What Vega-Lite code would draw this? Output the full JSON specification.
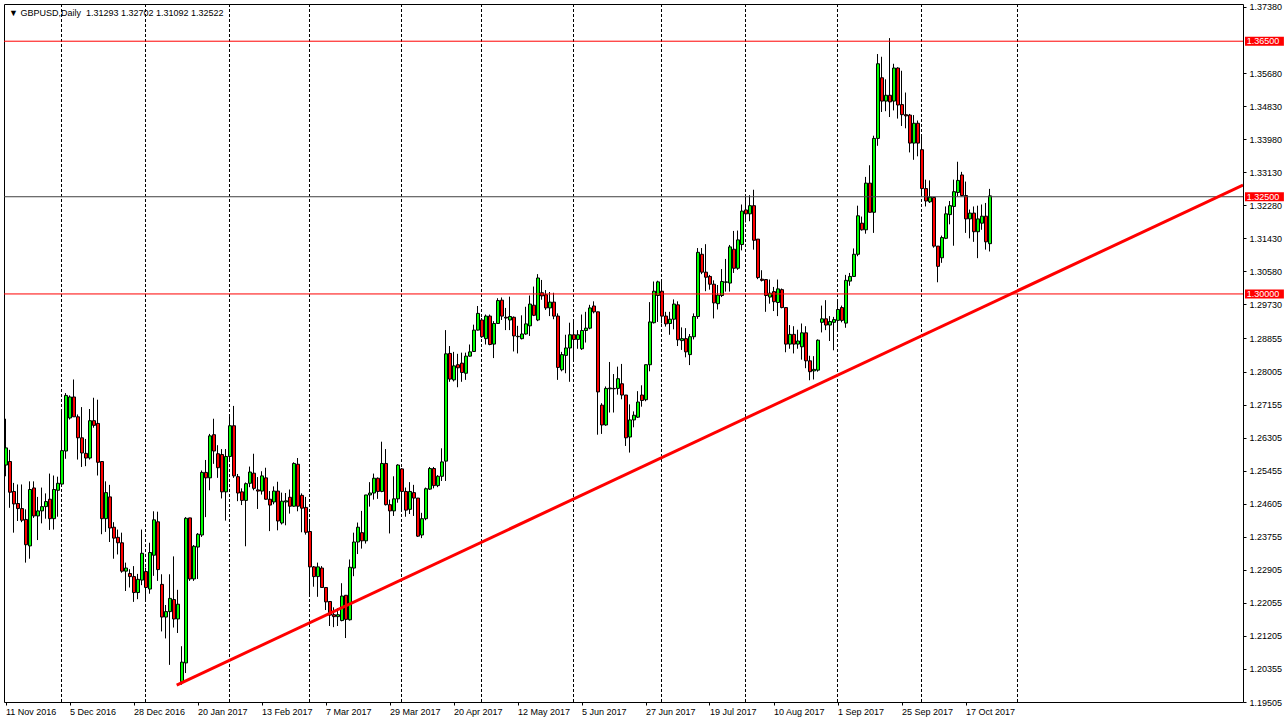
{
"$schema": "https://vega.github.io/schema/vega-lite/v6.json",
"width": 1239, "height": 698,
"autosize": {"type": "none"},
"padding": {"left": 4, "top": 4, "right": 45, "bottom": 23},
"background": "white",
"config": {"view": {"stroke": "black", "strokeWidth": 1}, "font": "Liberation Sans",
 "scale": {"continuousPadding": 0},
 "axis": {"labelFont": "Liberation Sans", "labelFontSize": 9, "labelColor": "black", "tickColor": "black", "domain": false, "grid": false, "labelOverlap": false, "labelFlush": false}},
"title": {"text": "▼ GBPUSD,Daily\u00a0\u00a01.31293 1.32702 1.31092 1.32522", "anchor": "start", "frame": "group", "orient": "top", "offset": -22, "baseline": "alphabetic", "dx": 5, "font": "Liberation Sans", "fontSize": 9, "fontWeight": "normal", "color": "black"},
"datasets": {
"grid": [{"i":14},{"i":35},{"i":56},{"i":76},{"i":99},{"i":119},{"i":142},{"i":164},{"i":185},{"i":208},{"i":229},{"i":253}],
"red": [{"p":1.365},{"p":1.3}],
"dark": [{"p":1.325}],
"tags": [{"p":1.365},{"p":1.325},{"p":1.3}],
"trend": [{"i":42.8,"p":1.1994},{"i":309.375,"p":1.3280}],
"k": [
{"i":0,"o":1.2560,"h":1.2679,"l":1.2531,"c":1.2604},
{"i":1,"o":1.2569,"h":1.2599,"l":1.2450,"c":1.2490},
{"i":2,"o":1.2492,"h":1.2514,"l":1.2386,"c":1.2460},
{"i":3,"o":1.2461,"h":1.2510,"l":1.2416,"c":1.2448},
{"i":4,"o":1.2448,"h":1.2510,"l":1.2413,"c":1.2418},
{"i":5,"o":1.2420,"h":1.2446,"l":1.2309,"c":1.2355},
{"i":6,"o":1.2352,"h":1.2518,"l":1.2319,"c":1.2497},
{"i":7,"o":1.2501,"h":1.2518,"l":1.2424,"c":1.2429},
{"i":8,"o":1.2429,"h":1.2478,"l":1.2367,"c":1.2442},
{"i":9,"o":1.2442,"h":1.2502,"l":1.2410,"c":1.2453},
{"i":10,"o":1.2453,"h":1.2487,"l":1.2422,"c":1.2466},
{"i":11,"o":1.2472,"h":1.2538,"l":1.2393,"c":1.2422},
{"i":12,"o":1.2422,"h":1.2533,"l":1.2394,"c":1.2497},
{"i":13,"o":1.2495,"h":1.2530,"l":1.2427,"c":1.2513},
{"i":14,"o":1.2511,"h":1.2703,"l":1.2506,"c":1.2597},
{"i":15,"o":1.2596,"h":1.2745,"l":1.2576,"c":1.2739},
{"i":16,"o":1.2681,"h":1.2739,"l":1.2677,"c":1.2735},
{"i":17,"o":1.2735,"h":1.2780,"l":1.2684,"c":1.2684},
{"i":18,"o":1.2684,"h":1.2690,"l":1.2574,"c":1.2630},
{"i":19,"o":1.2630,"h":1.2709,"l":1.2555,"c":1.2591},
{"i":20,"o":1.2590,"h":1.2627,"l":1.2557,"c":1.2578},
{"i":21,"o":1.2578,"h":1.2704,"l":1.2574,"c":1.2674},
{"i":22,"o":1.2674,"h":1.2733,"l":1.2656,"c":1.2662},
{"i":23,"o":1.2667,"h":1.2728,"l":1.2533,"c":1.2567},
{"i":24,"o":1.2569,"h":1.2569,"l":1.2382,"c":1.2422},
{"i":25,"o":1.2422,"h":1.2518,"l":1.2388,"c":1.2489},
{"i":26,"o":1.2478,"h":1.2509,"l":1.2362,"c":1.2398},
{"i":27,"o":1.2400,"h":1.2413,"l":1.2319,"c":1.2372},
{"i":28,"o":1.2374,"h":1.2394,"l":1.2330,"c":1.2360},
{"i":29,"o":1.2360,"h":1.2386,"l":1.2283,"c":1.2287},
{"i":30,"o":1.2287,"h":1.2309,"l":1.2236,"c":1.2295},
{"i":31,"o":1.2281,"h":1.2292,"l":1.2245,"c":1.2273},
{"i":32,"o":1.2273,"h":1.2300,"l":1.2208,"c":1.2232},
{"i":33,"o":1.2232,"h":1.2280,"l":1.2215,"c":1.2266},
{"i":34,"o":1.2264,"h":1.2394,"l":1.2251,"c":1.2333},
{"i":35,"o":1.2286,"h":1.2296,"l":1.2209,"c":1.2245},
{"i":36,"o":1.2241,"h":1.2360,"l":1.2229,"c":1.2335},
{"i":37,"o":1.2328,"h":1.2441,"l":1.2275,"c":1.2419},
{"i":38,"o":1.2414,"h":1.2440,"l":1.2262,"c":1.2291},
{"i":39,"o":1.2253,"h":1.2279,"l":1.2132,"c":1.2169},
{"i":40,"o":1.2169,"h":1.2200,"l":1.2114,"c":1.2183},
{"i":41,"o":1.2183,"h":1.2279,"l":1.2046,"c":1.2217},
{"i":42,"o":1.2214,"h":1.2325,"l":1.2142,"c":1.2164},
{"i":43,"o":1.2164,"h":1.2239,"l":1.2128,"c":1.2202},
{"i":44,"o":1.2003,"h":1.2094,"l":1.1995,"c":1.2053},
{"i":45,"o":1.2051,"h":1.2426,"l":1.2025,"c":1.2423},
{"i":46,"o":1.2424,"h":1.2424,"l":1.2262,"c":1.2267},
{"i":47,"o":1.2267,"h":1.2354,"l":1.2262,"c":1.2351},
{"i":48,"o":1.2349,"h":1.2385,"l":1.2267,"c":1.2382},
{"i":49,"o":1.2380,"h":1.2546,"l":1.2375,"c":1.2541},
{"i":50,"o":1.2541,"h":1.2573,"l":1.2426,"c":1.2527},
{"i":51,"o":1.2527,"h":1.2640,"l":1.2495,"c":1.2635},
{"i":52,"o":1.2638,"h":1.2679,"l":1.2563,"c":1.2596},
{"i":53,"o":1.2589,"h":1.2611,"l":1.2527,"c":1.2553},
{"i":54,"o":1.2587,"h":1.2601,"l":1.2474,"c":1.2491},
{"i":55,"o":1.2491,"h":1.2601,"l":1.2417,"c":1.2582},
{"i":56,"o":1.2582,"h":1.2685,"l":1.2570,"c":1.2661},
{"i":57,"o":1.2661,"h":1.2712,"l":1.2527,"c":1.2532},
{"i":58,"o":1.2530,"h":1.2537,"l":1.2467,"c":1.2488},
{"i":59,"o":1.2491,"h":1.2500,"l":1.2457,"c":1.2469},
{"i":60,"o":1.2469,"h":1.2515,"l":1.2351,"c":1.2512},
{"i":61,"o":1.2513,"h":1.2556,"l":1.2503,"c":1.2542},
{"i":62,"o":1.2539,"h":1.2589,"l":1.2495,"c":1.2500},
{"i":63,"o":1.2496,"h":1.2529,"l":1.2447,"c":1.2493},
{"i":64,"o":1.2493,"h":1.2544,"l":1.2484,"c":1.2532},
{"i":65,"o":1.2527,"h":1.2553,"l":1.2471,"c":1.2472},
{"i":66,"o":1.2472,"h":1.2493,"l":1.2390,"c":1.2457},
{"i":67,"o":1.2465,"h":1.2505,"l":1.2459,"c":1.2493},
{"i":68,"o":1.2493,"h":1.2517,"l":1.2392,"c":1.2416},
{"i":69,"o":1.2411,"h":1.2489,"l":1.2407,"c":1.2467},
{"i":70,"o":1.2465,"h":1.2488,"l":1.2405,"c":1.2468},
{"i":71,"o":1.2477,"h":1.2497,"l":1.2435,"c":1.2454},
{"i":72,"o":1.2454,"h":1.2567,"l":1.2453,"c":1.2564},
{"i":73,"o":1.2562,"h":1.2578,"l":1.2441,"c":1.2454},
{"i":74,"o":1.2482,"h":1.2487,"l":1.2387,"c":1.2449},
{"i":75,"o":1.2451,"h":1.2478,"l":1.2381,"c":1.2387},
{"i":76,"o":1.2389,"h":1.2420,"l":1.2221,"c":1.2298},
{"i":77,"o":1.2298,"h":1.2300,"l":1.2247,"c":1.2273},
{"i":78,"o":1.2273,"h":1.2309,"l":1.2221,"c":1.2298},
{"i":79,"o":1.2295,"h":1.2300,"l":1.2244,"c":1.2245},
{"i":80,"o":1.2245,"h":1.2245,"l":1.2187,"c":1.2208},
{"i":81,"o":1.2209,"h":1.2209,"l":1.2146,"c":1.2174},
{"i":82,"o":1.2175,"h":1.2194,"l":1.2143,"c":1.2170},
{"i":83,"o":1.2170,"h":1.2192,"l":1.2146,"c":1.2175},
{"i":84,"o":1.2160,"h":1.2256,"l":1.2158,"c":1.2223},
{"i":85,"o":1.2225,"h":1.2225,"l":1.2115,"c":1.2163},
{"i":86,"o":1.2162,"h":1.2317,"l":1.2160,"c":1.2297},
{"i":87,"o":1.2295,"h":1.2386,"l":1.2274,"c":1.2362},
{"i":88,"o":1.2362,"h":1.2412,"l":1.2331,"c":1.2400},
{"i":89,"o":1.2386,"h":1.2442,"l":1.2345,"c":1.2365},
{"i":90,"o":1.2365,"h":1.2483,"l":1.2358,"c":1.2483},
{"i":91,"o":1.2483,"h":1.2516,"l":1.2453,"c":1.2488},
{"i":92,"o":1.2488,"h":1.2538,"l":1.2471,"c":1.2526},
{"i":93,"o":1.2526,"h":1.2528,"l":1.2473,"c":1.2492},
{"i":94,"o":1.2492,"h":1.2620,"l":1.2490,"c":1.2564},
{"i":95,"o":1.2564,"h":1.2601,"l":1.2456,"c":1.2458},
{"i":96,"o":1.2458,"h":1.2471,"l":1.2384,"c":1.2442},
{"i":97,"o":1.2442,"h":1.2531,"l":1.2429,"c":1.2473},
{"i":98,"o":1.2473,"h":1.2562,"l":1.2463,"c":1.2560},
{"i":99,"o":1.2550,"h":1.2552,"l":1.2444,"c":1.2492},
{"i":100,"o":1.2492,"h":1.2502,"l":1.2427,"c":1.2444},
{"i":101,"o":1.2446,"h":1.2516,"l":1.2434,"c":1.2492},
{"i":102,"o":1.2489,"h":1.2509,"l":1.2429,"c":1.2475},
{"i":103,"o":1.2475,"h":1.2475,"l":1.2375,"c":1.2377},
{"i":104,"o":1.2380,"h":1.2437,"l":1.2372,"c":1.2422},
{"i":105,"o":1.2422,"h":1.2502,"l":1.2418,"c":1.2499},
{"i":106,"o":1.2498,"h":1.2555,"l":1.2496,"c":1.2551},
{"i":107,"o":1.2551,"h":1.2555,"l":1.2500,"c":1.2507},
{"i":108,"o":1.2507,"h":1.2534,"l":1.2503,"c":1.2531},
{"i":109,"o":1.2531,"h":1.2603,"l":1.2519,"c":1.2568},
{"i":110,"o":1.2570,"h":1.2907,"l":1.2519,"c":1.2846},
{"i":111,"o":1.2847,"h":1.2866,"l":1.2774,"c":1.2781},
{"i":112,"o":1.2779,"h":1.2851,"l":1.2775,"c":1.2815},
{"i":113,"o":1.2818,"h":1.2846,"l":1.2760,"c":1.2810},
{"i":114,"o":1.2822,"h":1.2849,"l":1.2774,"c":1.2798},
{"i":115,"o":1.2796,"h":1.2849,"l":1.2779,"c":1.2840},
{"i":116,"o":1.2840,"h":1.2870,"l":1.2839,"c":1.2851},
{"i":117,"o":1.2852,"h":1.2921,"l":1.2851,"c":1.2907},
{"i":118,"o":1.2907,"h":1.2969,"l":1.2906,"c":1.2950},
{"i":119,"o":1.2933,"h":1.2938,"l":1.2887,"c":1.2890},
{"i":120,"o":1.2885,"h":1.2947,"l":1.2870,"c":1.2943},
{"i":121,"o":1.2943,"h":1.2947,"l":1.2868,"c":1.2870},
{"i":122,"o":1.2871,"h":1.2930,"l":1.2835,"c":1.2924},
{"i":123,"o":1.2924,"h":1.2989,"l":1.2923,"c":1.2983},
{"i":124,"o":1.2984,"h":1.2991,"l":1.2933,"c":1.2943},
{"i":125,"o":1.2940,"h":1.2964,"l":1.2907,"c":1.2938},
{"i":126,"o":1.2933,"h":1.2993,"l":1.2907,"c":1.2942},
{"i":127,"o":1.2940,"h":1.2942,"l":1.2852,"c":1.2892},
{"i":128,"o":1.2890,"h":1.2918,"l":1.2847,"c":1.2891},
{"i":129,"o":1.2885,"h":1.2945,"l":1.2883,"c":1.2897},
{"i":130,"o":1.2897,"h":1.2967,"l":1.2895,"c":1.2923},
{"i":131,"o":1.2918,"h":1.2996,"l":1.2892,"c":1.2974},
{"i":132,"o":1.2971,"h":1.3019,"l":1.2943,"c":1.2945},
{"i":133,"o":1.2933,"h":1.3051,"l":1.2930,"c":1.3041},
{"i":134,"o":1.3003,"h":1.3036,"l":1.2985,"c":1.2995},
{"i":135,"o":1.2998,"h":1.3010,"l":1.2959,"c":1.2964},
{"i":136,"o":1.2964,"h":1.3005,"l":1.2943,"c":1.2979},
{"i":137,"o":1.2979,"h":1.3003,"l":1.2935,"c":1.2943},
{"i":138,"o":1.2943,"h":1.2950,"l":1.2779,"c":1.2811},
{"i":139,"o":1.2805,"h":1.2851,"l":1.2801,"c":1.2844},
{"i":140,"o":1.2842,"h":1.2895,"l":1.2796,"c":1.2861},
{"i":141,"o":1.2861,"h":1.2926,"l":1.2774,"c":1.2895},
{"i":142,"o":1.2895,"h":1.2928,"l":1.2829,"c":1.2883},
{"i":143,"o":1.2883,"h":1.2907,"l":1.2859,"c":1.2895},
{"i":144,"o":1.2859,"h":1.2947,"l":1.2856,"c":1.2906},
{"i":145,"o":1.2906,"h":1.2954,"l":1.2875,"c":1.2912},
{"i":146,"o":1.2912,"h":1.2972,"l":1.2909,"c":1.2964},
{"i":147,"o":1.2969,"h":1.2981,"l":1.2950,"c":1.2954},
{"i":148,"o":1.2954,"h":1.2954,"l":1.2638,"c":1.2748},
{"i":149,"o":1.2714,"h":1.2719,"l":1.2640,"c":1.2663},
{"i":150,"o":1.2663,"h":1.2762,"l":1.2661,"c":1.2757},
{"i":151,"o":1.2756,"h":1.2825,"l":1.2695,"c":1.2758},
{"i":152,"o":1.2757,"h":1.2794,"l":1.2695,"c":1.2756},
{"i":153,"o":1.2757,"h":1.2813,"l":1.2741,"c":1.2782},
{"i":154,"o":1.2769,"h":1.2820,"l":1.2729,"c":1.2740},
{"i":155,"o":1.2740,"h":1.2740,"l":1.2609,"c":1.2630},
{"i":156,"o":1.2632,"h":1.2716,"l":1.2592,"c":1.2676},
{"i":157,"o":1.2676,"h":1.2698,"l":1.2657,"c":1.2688},
{"i":158,"o":1.2683,"h":1.2750,"l":1.2681,"c":1.2722},
{"i":159,"o":1.2740,"h":1.2765,"l":1.2710,"c":1.2726},
{"i":160,"o":1.2728,"h":1.2818,"l":1.2724,"c":1.2818},
{"i":161,"o":1.2818,"h":1.2979,"l":1.2801,"c":1.2928},
{"i":162,"o":1.2926,"h":1.3032,"l":1.2924,"c":1.3007},
{"i":163,"o":1.2996,"h":1.3034,"l":1.2928,"c":1.3031},
{"i":164,"o":1.3007,"h":1.3037,"l":1.2924,"c":1.2943},
{"i":165,"o":1.2943,"h":1.2954,"l":1.2916,"c":1.2923},
{"i":166,"o":1.2924,"h":1.2954,"l":1.2895,"c":1.2935},
{"i":167,"o":1.2935,"h":1.2986,"l":1.2909,"c":1.2974},
{"i":168,"o":1.2972,"h":1.2981,"l":1.2866,"c":1.2882},
{"i":169,"o":1.2880,"h":1.2914,"l":1.2856,"c":1.2885},
{"i":170,"o":1.2885,"h":1.2912,"l":1.2837,"c":1.2851},
{"i":171,"o":1.2844,"h":1.2897,"l":1.2817,"c":1.2890},
{"i":172,"o":1.2890,"h":1.2950,"l":1.2883,"c":1.2942},
{"i":173,"o":1.2942,"h":1.3118,"l":1.2936,"c":1.3107},
{"i":174,"o":1.3102,"h":1.3118,"l":1.3051,"c":1.3056},
{"i":175,"o":1.3056,"h":1.3128,"l":1.3007,"c":1.3043},
{"i":176,"o":1.3045,"h":1.3049,"l":1.3011,"c":1.3025},
{"i":177,"o":1.3025,"h":1.3035,"l":1.2937,"c":1.2977},
{"i":178,"o":1.2975,"h":1.3023,"l":1.2960,"c":1.2997},
{"i":179,"o":1.2996,"h":1.3064,"l":1.2992,"c":1.3032},
{"i":180,"o":1.3030,"h":1.3090,"l":1.3006,"c":1.3031},
{"i":181,"o":1.3028,"h":1.3126,"l":1.3006,"c":1.3121},
{"i":182,"o":1.3115,"h":1.3162,"l":1.3054,"c":1.3066},
{"i":183,"o":1.3066,"h":1.3163,"l":1.3062,"c":1.3139},
{"i":184,"o":1.3127,"h":1.3230,"l":1.3112,"c":1.3213},
{"i":185,"o":1.3216,"h":1.3252,"l":1.3184,"c":1.3206},
{"i":186,"o":1.3206,"h":1.3254,"l":1.3187,"c":1.3227},
{"i":187,"o":1.3227,"h":1.3268,"l":1.3114,"c":1.3138},
{"i":188,"o":1.3141,"h":1.3141,"l":1.3038,"c":1.3042},
{"i":189,"o":1.3038,"h":1.3061,"l":1.3032,"c":1.3035},
{"i":190,"o":1.3037,"h":1.3037,"l":1.2954,"c":1.2996},
{"i":191,"o":1.2992,"h":1.3037,"l":1.2975,"c":1.3002},
{"i":192,"o":1.3006,"h":1.3018,"l":1.2956,"c":1.2980},
{"i":193,"o":1.2978,"h":1.3037,"l":1.2943,"c":1.3013},
{"i":194,"o":1.3011,"h":1.3014,"l":1.2963,"c":1.2965},
{"i":195,"o":1.2965,"h":1.2965,"l":1.2850,"c":1.2871},
{"i":196,"o":1.2871,"h":1.2920,"l":1.2859,"c":1.2896},
{"i":197,"o":1.2896,"h":1.2917,"l":1.2847,"c":1.2871},
{"i":198,"o":1.2871,"h":1.2908,"l":1.2859,"c":1.2879},
{"i":199,"o":1.2864,"h":1.2924,"l":1.2831,"c":1.2900},
{"i":200,"o":1.2900,"h":1.2917,"l":1.2809,"c":1.2828},
{"i":201,"o":1.2828,"h":1.2841,"l":1.2778,"c":1.2800},
{"i":202,"o":1.2802,"h":1.2840,"l":1.2780,"c":1.2806},
{"i":203,"o":1.2804,"h":1.2883,"l":1.2800,"c":1.2881},
{"i":204,"o":1.2927,"h":1.2970,"l":1.2901,"c":1.2936},
{"i":205,"o":1.2936,"h":1.2984,"l":1.2907,"c":1.2920},
{"i":206,"o":1.2920,"h":1.2943,"l":1.2879,"c":1.2929},
{"i":207,"o":1.2927,"h":1.2941,"l":1.2855,"c":1.2934},
{"i":208,"o":1.2932,"h":1.2985,"l":1.2908,"c":1.2960},
{"i":209,"o":1.2965,"h":1.2970,"l":1.2927,"c":1.2932},
{"i":210,"o":1.2925,"h":1.3049,"l":1.2913,"c":1.3035},
{"i":211,"o":1.3033,"h":1.3054,"l":1.3021,"c":1.3045},
{"i":212,"o":1.3045,"h":1.3117,"l":1.3044,"c":1.3102},
{"i":213,"o":1.3102,"h":1.3227,"l":1.3097,"c":1.3201},
{"i":214,"o":1.3182,"h":1.3199,"l":1.3163,"c":1.3165},
{"i":215,"o":1.3165,"h":1.3301,"l":1.3155,"c":1.3285},
{"i":216,"o":1.3285,"h":1.3331,"l":1.3210,"c":1.3210},
{"i":217,"o":1.3210,"h":1.3407,"l":1.3157,"c":1.3400},
{"i":218,"o":1.3400,"h":1.3617,"l":1.3381,"c":1.3592},
{"i":219,"o":1.3556,"h":1.3610,"l":1.3468,"c":1.3496},
{"i":220,"o":1.3496,"h":1.3552,"l":1.3470,"c":1.3511},
{"i":221,"o":1.3511,"h":1.3658,"l":1.3455,"c":1.3494},
{"i":222,"o":1.3496,"h":1.3592,"l":1.3472,"c":1.3581},
{"i":223,"o":1.3581,"h":1.3583,"l":1.3451,"c":1.3486},
{"i":224,"o":1.3487,"h":1.3574,"l":1.3432,"c":1.3461},
{"i":225,"o":1.3461,"h":1.3518,"l":1.3426,"c":1.3458},
{"i":226,"o":1.3460,"h":1.3463,"l":1.3364,"c":1.3388},
{"i":227,"o":1.3388,"h":1.3460,"l":1.3345,"c":1.3439},
{"i":228,"o":1.3439,"h":1.3446,"l":1.3354,"c":1.3388},
{"i":229,"o":1.3371,"h":1.3405,"l":1.3256,"c":1.3271},
{"i":230,"o":1.3271,"h":1.3294,"l":1.3225,"c":1.3239},
{"i":231,"o":1.3237,"h":1.3292,"l":1.3234,"c":1.3249},
{"i":232,"o":1.3248,"h":1.3248,"l":1.3119,"c":1.3123},
{"i":233,"o":1.3123,"h":1.3123,"l":1.3030,"c":1.3071},
{"i":234,"o":1.3093,"h":1.3150,"l":1.3080,"c":1.3145},
{"i":235,"o":1.3143,"h":1.3225,"l":1.3141,"c":1.3206},
{"i":236,"o":1.3204,"h":1.3239,"l":1.3179,"c":1.3227},
{"i":237,"o":1.3225,"h":1.3294,"l":1.3124,"c":1.3263},
{"i":238,"o":1.3261,"h":1.3340,"l":1.3251,"c":1.3292},
{"i":239,"o":1.3306,"h":1.3314,"l":1.3251,"c":1.3253},
{"i":240,"o":1.3253,"h":1.3289,"l":1.3157,"c":1.3193},
{"i":241,"o":1.3193,"h":1.3217,"l":1.3143,"c":1.3208},
{"i":242,"o":1.3208,"h":1.3225,"l":1.3134,"c":1.3160},
{"i":243,"o":1.3160,"h":1.3227,"l":1.3092,"c":1.3193},
{"i":244,"o":1.3182,"h":1.3230,"l":1.3165,"c":1.3200},
{"i":245,"o":1.3200,"h":1.3234,"l":1.3114,"c":1.3134},
{"i":246,"o":1.31293,"h":1.32702,"l":1.31092,"c":1.32522}
]
},
"layer": [
{"data": {"name": "grid"},
 "mark": {"type": "rule", "color": "black", "strokeWidth": 1, "strokeDash": [3, 2]},
 "encoding": {"x": {"field": "i", "type": "quantitative", "title": null, "scale": {"domain": [-0.375, 309.375], "nice": false, "zero": false, "padding": 0},
   "axis": {"orient": "bottom", "title": null, "tickCount": 60, "values": [0,16,32,48,64,80,96,112,128,144,160,176,192,208,224,240],
     "labelExpr": "['11 Nov 2016','5 Dec 2016','28 Dec 2016','20 Jan 2017','13 Feb 2017','7 Mar 2017','29 Mar 2017','20 Apr 2017','12 May 2017','5 Jun 2017','27 Jun 2017','19 Jul 2017','10 Aug 2017','1 Sep 2017','25 Sep 2017','17 Oct 2017'][round(datum.value/16)]",
     "labelAlign": "left", "labelBaseline": "top", "labelPadding": 2, "tickSize": 3, "labelOverlap": false, "labelFlush": false, "labelFontSize": 9}}}},
{"data": {"name": "k"},
 "mark": {"type": "rule", "color": "black", "strokeWidth": 1},
 "encoding": {"x": {"field": "i", "type": "quantitative", "title": null},
   "y": {"field": "l", "type": "quantitative", "title": null, "scale": {"domain": [1.19505, 1.37457], "nice": false, "zero": false, "padding": 0},
     "axis": {"orient": "right", "title": null, "tickCount": 60, "values": [1.3738,1.3568,1.3483,1.3398,1.3313,1.3228,1.3143,1.3058,1.2973,1.28855,1.28005,1.27155,1.26305,1.25455,1.24605,1.23755,1.22905,1.22055,1.21205,1.20355,1.19505],
       "format": ".5f", "tickSize": 3, "labelPadding": 3, "labelOverlap": false, "labelFlush": false, "labelFontSize": 9}},
   "y2": {"field": "h"}}},
{"data": {"name": "k"},
 "mark": {"type": "bar", "width": 3, "stroke": "black", "strokeWidth": 1, "xOffset": 0.5},
 "encoding": {"x": {"field": "i", "type": "quantitative", "title": null},
   "y": {"field": "o", "type": "quantitative", "title": null},
   "y2": {"field": "c"},
   "fill": {"condition": {"test": "datum.c >= datum.o", "value": "#00ff00"}, "value": "#ff0000"}}},
{"data": {"name": "red"},
 "mark": {"type": "rule", "color": "#ff0000", "strokeWidth": 1},
 "encoding": {"y": {"field": "p", "type": "quantitative", "title": null}}},
{"data": {"name": "dark"},
 "mark": {"type": "rule", "color": "#404040", "strokeWidth": 1},
 "encoding": {"y": {"field": "p", "type": "quantitative", "title": null}}},
{"data": {"name": "trend"},
 "mark": {"type": "line", "color": "#ff0000", "strokeWidth": 3, "clip": true},
 "encoding": {"x": {"field": "i", "type": "quantitative", "title": null},
   "y": {"field": "p", "type": "quantitative", "title": null}}},
{"data": {"name": "tags"},
 "mark": {"type": "bar", "orient": "horizontal", "height": 9, "color": "#ff0000", "clip": false},
 "encoding": {"x": {"datum": 309.875, "type": "quantitative", "title": null},
   "x2": {"datum": 319.6},
   "y": {"field": "p", "type": "quantitative", "title": null}}},
{"data": {"name": "tags"},
 "mark": {"type": "text", "align": "left", "baseline": "middle", "color": "white", "font": "Liberation Sans", "fontSize": 9, "clip": false},
 "encoding": {"x": {"datum": 310.3, "type": "quantitative", "title": null},
   "y": {"field": "p", "type": "quantitative", "title": null},
   "text": {"field": "p", "type": "quantitative", "format": ".5f"}}}
]
}
